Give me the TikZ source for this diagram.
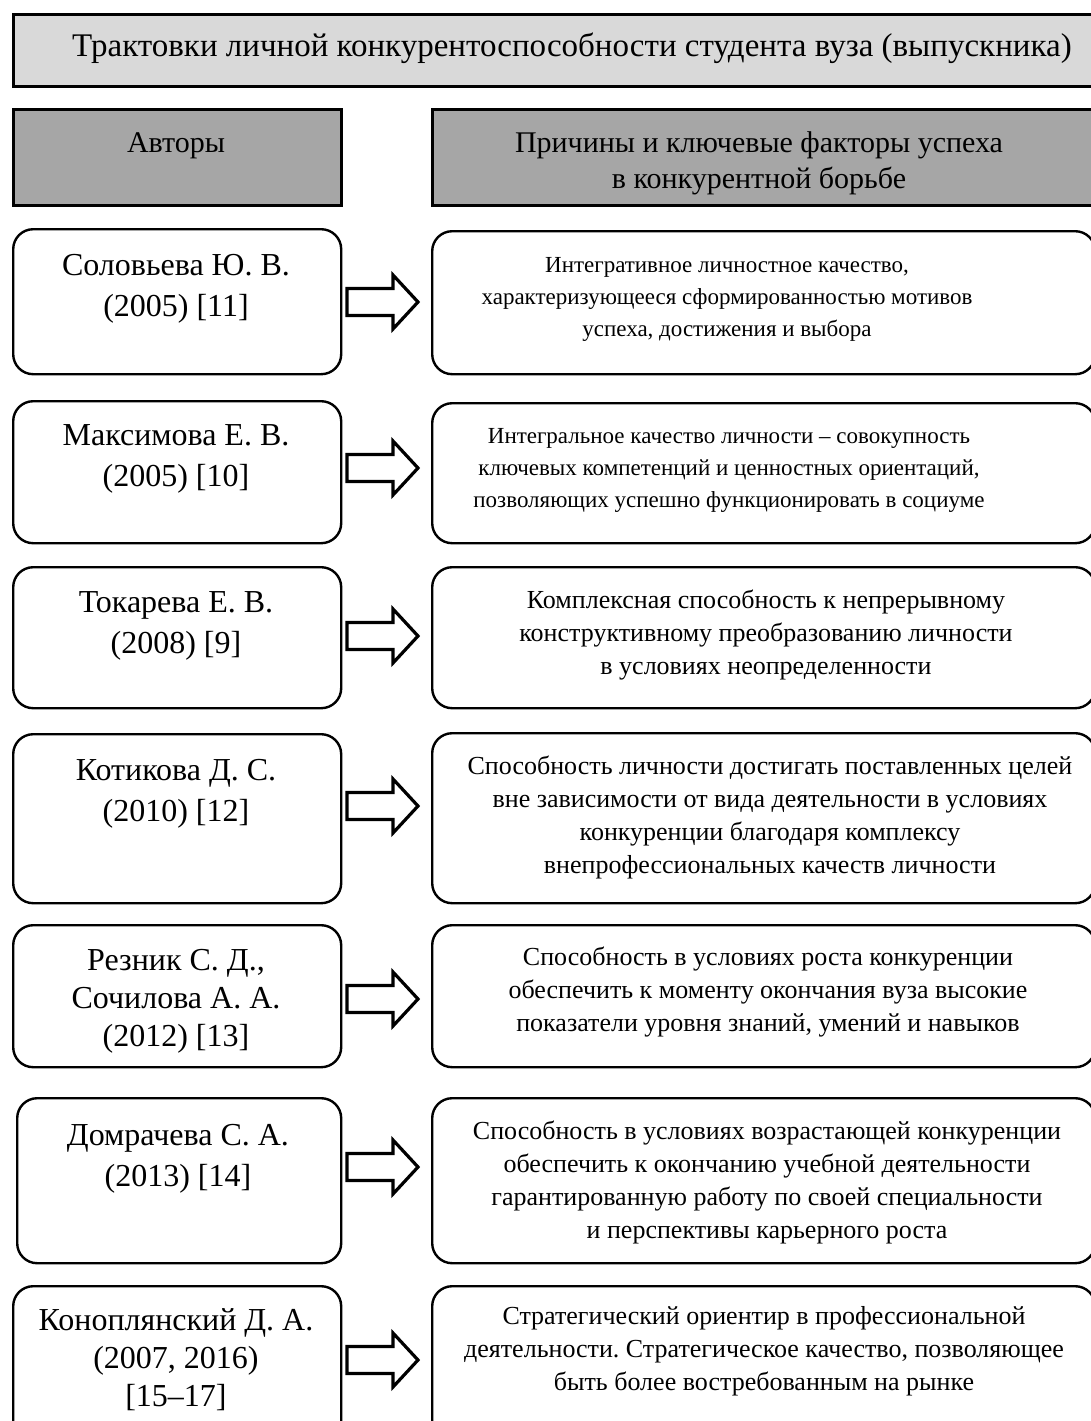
\documentclass[tikz,border=0pt]{standalone}
\usepackage{fontspec}
\setmainfont{Liberation Serif}
\frenchspacing
\definecolor{titlegray}{RGB}{217,217,217}
\definecolor{headgray}{RGB}{166,166,166}
\tikzset{
  titlebox/.style={draw, line width=1.3pt, fill=titlegray, anchor=north west, inner sep=0pt},
  headbox/.style={draw, line width=1.3pt, fill=headgray, anchor=north west, inner sep=0pt, minimum height=48pt},
  authbox/.style={draw, line width=1.2pt, rounded corners=10pt, fill=white, anchor=north west, inner sep=0pt},
  defbox/.style={draw, line width=1.2pt, rounded corners=10pt, fill=white, anchor=north west, inner sep=0pt, minimum width=331.5pt},
  txt/.style={anchor=base, inner sep=0pt},
  blockarrow/.style={draw, line width=1.6pt, fill=white, line join=miter}
}
\newcommand{\authtxt}[2]{\parbox[t]{160pt}{\centering\frenchspacing\fontsize{16pt}{#1}\selectfont #2}}
\newcommand{\smalltxt}[1]{\parbox[t]{340pt}{\centering\frenchspacing\fontsize{11.5pt}{16pt}\selectfont #1}}
\newcommand{\bigtxt}[1]{\parbox[t]{340pt}{\centering\frenchspacing\fontsize{13pt}{16.5pt}\selectfont #1}}
\newcommand{\blockarr}[1]{\draw[blockarrow] (#1) -- ++(46,0) -- ++(0,-13.5) -- ++(25,27) -- ++(-25,27) -- ++(0,-13.5) -- ++(-46,0) -- cycle;}
\begin{document}
\begin{tikzpicture}[x=0.5pt,y=-0.5pt]
\useasboundingbox (0,0) rectangle (1091,1421);

% title and headers
\node[titlebox, minimum width=541.5pt, minimum height=36pt] (title) at (12,13) {};
\node[txt] (titletxt) at (572,56) {\fontsize{16.5pt}{20pt}\selectfont Трактовки личной конкурентоспособности студента вуза (выпускника)};
\node[headbox, minimum width=164pt] (hauth) at (12,108) {};
\node[headbox, minimum width=332pt] (hdef) at (431,108) {};
\node[txt] (hauthtxt) at (176,152) {\fontsize{15pt}{18pt}\selectfont Авторы};
\node[txt] (hdeftxt) at (759,152) {\parbox[t]{330pt}{\centering\fontsize{15pt}{18pt}\selectfont Причины и ключевые факторы успеха\\в конкурентной борьбе}};

% author boxes
\node[authbox, minimum width=164pt, minimum height=72.5pt] (a1) at (12,228) {};
\node[authbox, minimum width=164pt, minimum height=71pt] (a2) at (12,400) {};
\node[authbox, minimum width=164pt, minimum height=70.5pt] (a3) at (12,566) {};
\node[authbox, minimum width=164pt, minimum height=84.5pt] (a4) at (12,733) {};
\node[authbox, minimum width=164pt, minimum height=71pt] (a5) at (12,924) {};
\node[authbox, minimum width=162pt, minimum height=82.5pt] (a6) at (16,1097) {};
\node[authbox, minimum width=164pt, minimum height=80pt] (a7) at (12,1285) {};

% definition boxes
\node[defbox, minimum height=71.5pt] (d1) at (431,230) {};
\node[defbox, minimum height=70pt] (d2) at (431,402) {};
\node[defbox, minimum height=70.5pt] (d3) at (431,566) {};
\node[defbox, minimum height=85pt] (d4) at (431,732) {};
\node[defbox, minimum height=71pt] (d5) at (431,924) {};
\node[defbox, minimum height=82.5pt] (d6) at (431,1097) {};
\node[defbox, minimum height=80pt] (d7) at (431,1285) {};

% author texts
\node[txt] (a1t) at (176,275) {\authtxt{20.5pt}{Соловьева Ю. В.\\(2005) [11]}};
\node[txt] (a2t) at (176,445) {\authtxt{20.5pt}{Максимова Е. В.\\(2005) [10]}};
\node[txt] (a3t) at (176,612) {\authtxt{20.5pt}{Токарева Е. В.\\(2008) [9]}};
\node[txt] (a4t) at (176,780) {\authtxt{20.5pt}{Котикова Д. С.\\(2010) [12]}};
\node[txt] (a5t) at (176,970) {\authtxt{19pt}{Резник С. Д.,\\Сочилова А. А.\\(2012) [13]}};
\node[txt] (a6t) at (178,1145) {\authtxt{20.5pt}{Домрачева С. А.\\(2013) [14]}};
\node[txt] (a7t) at (176,1330) {\authtxt{19pt}{Коноплянский Д. А.\\(2007, 2016)\\{}[15–17]}};

% definition texts
\node[txt] (d1t) at (727,272) {\smalltxt{Интегративное личностное качество,\\характеризующееся сформированностью мотивов\\успеха, достижения и выбора}};
\node[txt] (d2t) at (729,443) {\smalltxt{Интегральное качество личности – совокупность\\ключевых компетенций и ценностных ориентаций,\\позволяющих успешно функционировать в социуме}};
\node[txt] (d3t) at (766,608) {\bigtxt{Комплексная способность к непрерывному\\конструктивному преобразованию личности\\в условиях неопределенности}};
\node[txt] (d4t) at (770,774) {\bigtxt{Способность личности достигать поставленных целей\\вне зависимости от вида деятельности в условиях\\конкуренции благодаря комплексу\\внепрофессиональных качеств личности}};
\node[txt] (d5t) at (768,965) {\bigtxt{Способность в условиях роста конкуренции\\обеспечить к моменту окончания вуза высокие\\показатели уровня знаний, умений и навыков}};
\node[txt] (d6t) at (767,1139) {\bigtxt{Способность в условиях возрастающей конкуренции\\обеспечить к окончанию учебной деятельности\\гарантированную работу по своей специальности\\и перспективы карьерного роста}};
\node[txt] (d7t) at (764,1324) {\bigtxt{Стратегический ориентир в профессиональной\\деятельности. Стратегическое качество, позволяющее\\быть более востребованным на рынке}};

% block arrows
\coordinate (r1) at (347,288.5);
\coordinate (r2) at (347,454.5);
\coordinate (r3) at (347,622.5);
\coordinate (r4) at (347,792.5);
\coordinate (r5) at (347,985.5);
\coordinate (r6) at (347,1153.5);
\coordinate (r7) at (347,1346.5);
\blockarr{r1}
\blockarr{r2}
\blockarr{r3}
\blockarr{r4}
\blockarr{r5}
\blockarr{r6}
\blockarr{r7}
\end{tikzpicture}
\end{document}
